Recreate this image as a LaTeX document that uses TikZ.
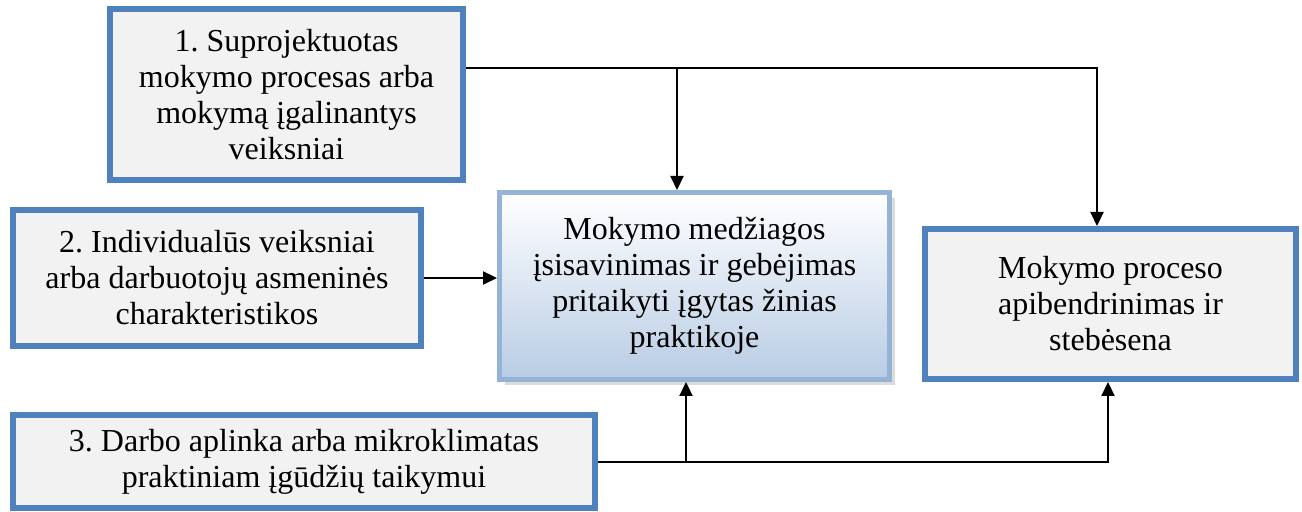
\documentclass[tikz,border=0pt]{standalone}
\usepackage{fontspec}
\setmainfont{Liberation Serif}
\usetikzlibrary{arrows.meta,shadows,positioning}
\definecolor{boxblue}{HTML}{4F81BD}
\definecolor{boxgray}{HTML}{F2F2F2}
\definecolor{midblue}{HTML}{95B3D7}
\definecolor{midfill}{HTML}{B8CCE4}
\frenchspacing
\tikzset{
arc/.style={-{Triangle[length=7pt,width=6.5pt]},line width=1.1pt},
factor/.style={draw=boxblue,line width=3pt,fill=boxgray,align=center,inner sep=0pt,font=\fontsize{16}{18}\selectfont},
goal/.style={draw=midblue,line width=2.5pt,top color=white,bottom color=midfill,align=center,inner sep=0pt,font=\fontsize{16}{18}\selectfont,
	drop shadow={shadow xshift=2.75pt,shadow yshift=-2.75pt,fill=gray!55}}
}

\begin{document}
\begin{tikzpicture}[x=0.5pt,y=-0.5pt]
	\useasboundingbox (0,0) rectangle (1302,512);
	% factors
	\node[factor,minimum width=176.5pt,minimum height=85.5pt] (f1) at (286.5,94.5) {1. Suprojektuotas\\mokymo procesas arba\\mokymą įgalinantys\\veiksniai};
	\node[factor,minimum width=204pt,minimum height=68pt] (f2) at (217,278) {2. Individualūs veiksniai\\arba darbuotojų asmeninės\\charakteristikos};
	\node[factor,minimum width=291pt,minimum height=46.5pt] (f3) at (304,461.5) {3. Darbo aplinka arba mikroklimatas\\praktiniam įgūdžių taikymui};
	
	% middle and result
	\node[goal,minimum width=195pt,minimum height=93.5pt] (mid) at (694.5,286) {Mokymo medžiagos\\įsisavinimas ir gebėjimas\\pritaikyti įgytas žinias\\praktikoje};
	\node[factor,minimum width=185.5pt,minimum height=75pt] (res) at (1110.5,304) {Mokymo proceso\\apibendrinimas ir\\stebėsena};
	
	% arrows
	\coordinate (topturn) at (1097,68);
	\coordinate (topfork) at (677,68);
	\coordinate (lowturn) at (1108,462);
	\coordinate (lowfork) at (686,462);
	\draw[arc] (f1.east |- topturn) -- (topturn) -- (topturn |- res.north);
	\draw[arc] (topfork) -- (topfork |- mid.north);
	\draw[arc] (f2.east) -- (f2.east -| mid.west);
	\draw[arc] (f3.east |- lowturn) -- (lowturn) -- (lowturn |- res.south);
	\draw[arc] (lowfork) -- (lowfork |- mid.south);
\end{tikzpicture}
\end{document}
